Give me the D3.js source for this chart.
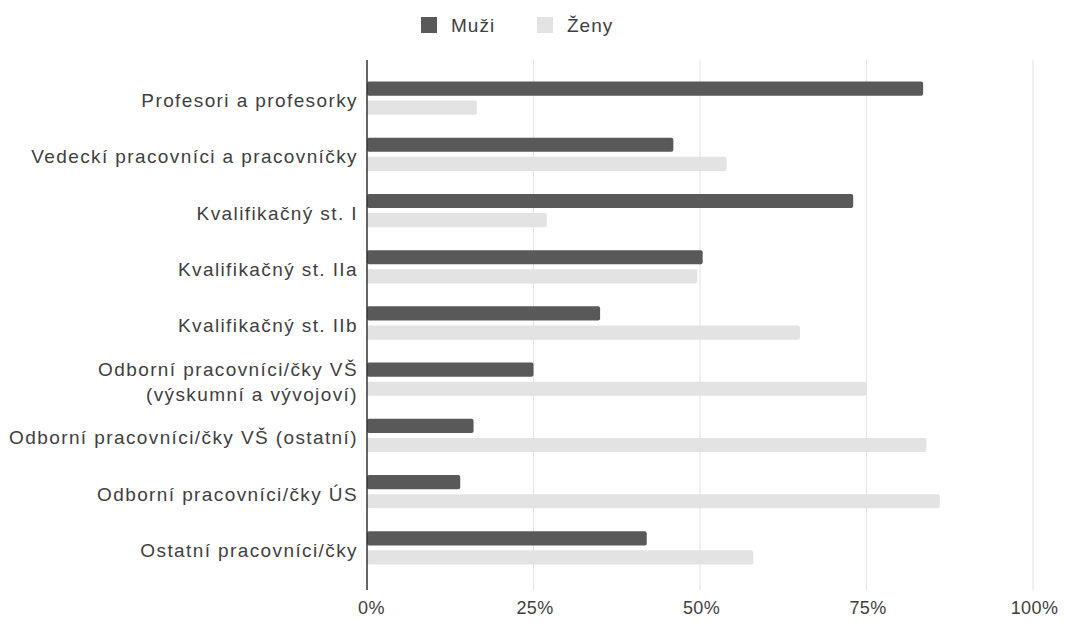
<!DOCTYPE html>
<html>
<head>
<meta charset="utf-8">
<script src="https://cdn.jsdelivr.net/npm/d3@7"></script>
<style>
  html, body { margin: 0; padding: 0; background: #fff; }
  svg { display: block; font-family: "Liberation Sans", Arial, Arimo, sans-serif; }
  .label { font-size: 19px; letter-spacing: 1.4px; fill: #404040; }
  .legend-label { font-size: 19px; letter-spacing: 1px; fill: #404040; }
  .tick-label { font-size: 18px; letter-spacing: 0.4px; fill: #404040; }
</style>
</head>
<body>
<div id="chart"></div>
<script>
const categories = [
  "Profesori a profesorky",
  "Vedeckí pracovníci a pracovníčky",
  "Kvalifikačný st. I",
  "Kvalifikačný st. IIa",
  "Kvalifikačný st. IIb",
  "Odborní pracovníci/čky VŠ\n(výskumní a vývojoví)",
  "Odborní pracovníci/čky VŠ (ostatní)",
  "Odborní pracovníci/čky ÚS",
  "Ostatní pracovníci/čky",
];
const seriesNames = ["Muži", "Ženy"];
const muzi = [83.5, 46, 73, 50.4, 35, 25, 16, 14, 42];
const zeny = [16.5, 54, 27, 49.6, 65, 75, 84, 86, 58];
const tickValues = [0, 25, 50, 75, 100];

const colors = { "Muži": "#595959", "Ženy": "#e3e3e3" };

const width = 1065;
const height = 623;
const plotLeft = 367;
const plotRight = 1033;
const axisTop = 60;
const axisBottom = 590;

const rows = categories.map((c, i) => ({ category: c, "Muži": muzi[i], "Ženy": zeny[i] }));

const x = d3.scaleLinear().domain([0, 100]).range([plotLeft, plotRight]);
const y = d3.scaleBand().domain(categories).range([70, 576]).paddingInner(0);
const ySub = d3
  .scaleBand()
  .domain(seriesNames)
  .range([0, y.bandwidth()])
  .paddingInner(0.26)
  .paddingOuter(0.6);

const svg = d3
  .select("#chart")
  .append("svg")
  .attr("width", width)
  .attr("height", height)
  .attr("viewBox", [0, 0, width, height]);

// grid lines
svg
  .append("g")
  .attr("class", "grid")
  .selectAll("line")
  .data(tickValues.filter((d) => d > 0))
  .join("line")
  .attr("x1", (d) => x(d))
  .attr("x2", (d) => x(d))
  .attr("y1", axisTop)
  .attr("y2", axisBottom)
  .attr("stroke", "#e6e6e6")
  .attr("stroke-width", 1.2);

// bars
const groups = svg
  .append("g")
  .attr("class", "bars")
  .selectAll("g")
  .data(rows)
  .join("g")
  .attr("transform", (d) => `translate(0,${y(d.category)})`);

groups
  .selectAll("rect")
  .data((d) => seriesNames.map((key) => ({ key, value: d[key] })))
  .join("rect")
  .attr("x", x(0))
  .attr("y", (d) => ySub(d.key))
  .attr("width", (d) => x(d.value) - x(0))
  .attr("height", ySub.bandwidth())
  .attr("rx", 2)
  .attr("fill", (d) => colors[d.key]);

// x axis labels
const xAxis = d3
  .axisBottom(x)
  .tickValues(tickValues)
  .tickFormat((d) => d + "%")
  .tickSize(0)
  .tickPadding(0);

svg
  .append("g")
  .attr("transform", `translate(0,${axisBottom + 8})`)
  .call(xAxis)
  .call((g) => g.select(".domain").remove())
  .call((g) =>
    g
      .selectAll("text")
      .attr("class", "tick-label")
      .attr("dy", "0.9em")
      .attr("dx", (d) => (d === 0 ? 4 : 1))
      .attr("font-family", null)
      .attr("font-size", null)
      .attr("fill", null)
  );

// category labels
const yLabels = svg
  .append("g")
  .attr("class", "y-labels")
  .selectAll("text")
  .data(categories)
  .join("text")
  .attr("class", "label")
  .attr("text-anchor", "end")
  .attr("x", plotLeft - 9)
  .attr("y", (d) => y(d) + y.bandwidth() / 2);

yLabels.each(function (d) {
  const lines = d.split("\n");
  const lineHeight = 25;
  const start = -((lines.length - 1) * lineHeight) / 2;
  d3.select(this)
    .selectAll("tspan")
    .data(lines)
    .join("tspan")
    .attr("x", plotLeft - 9)
    .attr("dy", (l, i) => (i === 0 ? start + 9 : lineHeight))
    .text((l) => l);
});

// left axis line
svg
  .append("line")
  .attr("x1", x(0))
  .attr("x2", x(0))
  .attr("y1", axisTop)
  .attr("y2", axisBottom)
  .attr("stroke", "#333")
  .attr("stroke-width", 1.5);

// legend
const legend = svg
  .append("g")
  .attr("class", "legend")
  .selectAll("g")
  .data(seriesNames)
  .join("g")
  .attr("transform", (d, i) => `translate(${[421, 537][i]},17)`);

legend
  .append("rect")
  .attr("width", 16)
  .attr("height", 16)
  .attr("fill", (d) => colors[d]);

legend
  .append("text")
  .attr("class", "legend-label")
  .attr("x", 30)
  .attr("y", 8)
  .attr("dy", "0.35em")
  .text((d) => d);
</script>
</body>
</html>
